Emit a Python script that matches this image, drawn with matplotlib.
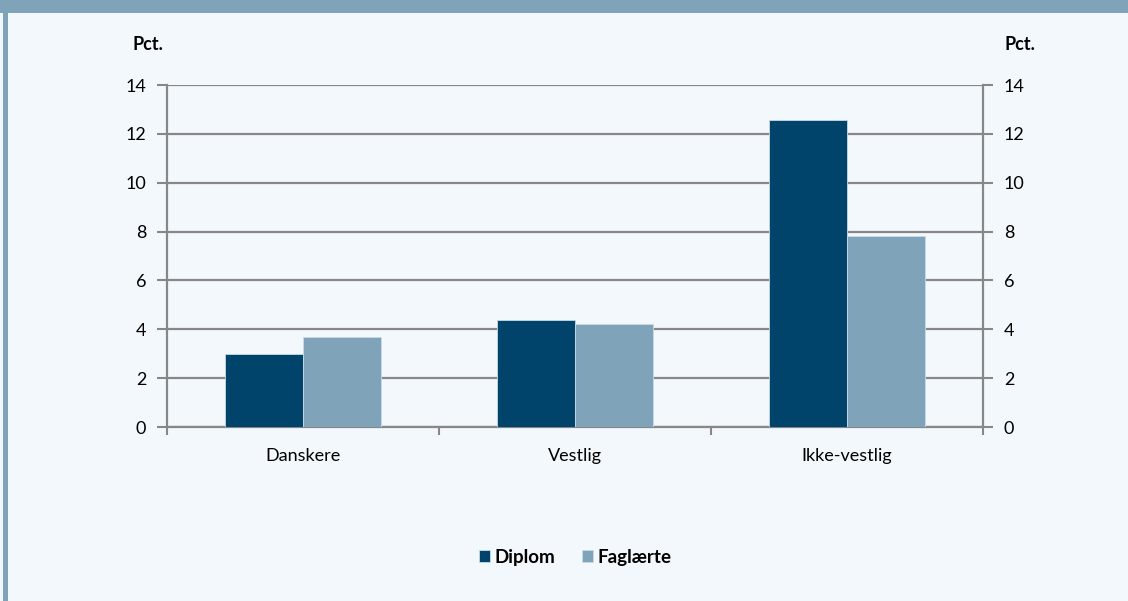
import matplotlib.pyplot as plt
import numpy as np
from matplotlib.patches import Rectangle

categories = ["Danskere", "Vestlig", "Ikke-vestlig"]
diplom = [3.0, 4.4, 12.55]
faglaerte = [3.7, 4.2, 7.8]
y_ticks = [0, 2, 4, 6, 8, 10, 12, 14]

DARK = "#00446b"
LIGHT = "#7fa3b8"
GRID = "#878787"
BG = "#f3f8fc"
BAND = "#7fa3b8"

plt.rcParams["font.family"] = ["Lato", "DejaVu Sans"]

fig = plt.figure(figsize=(11.28, 6.01), dpi=100)
fig.patch.set_facecolor(BG)

# frame: top band and left strip
fig.add_artist(Rectangle((0, 1 - 13 / 601), 1, 13 / 601, transform=fig.transFigure,
                         facecolor=BAND, edgecolor="none"))
fig.add_artist(Rectangle((3 / 1128, 0), 5 / 1128, 1, transform=fig.transFigure,
                         facecolor=BAND, edgecolor="none"))

left, right = 167 / 1128, 983 / 1128
bottom, top = 1 - 427 / 601, 1 - 85 / 601
ax = fig.add_axes([left, bottom, right - left, top - bottom])
ax.set_facecolor(BG)

x = np.arange(len(categories))
w = 0.285
ax.bar(x - w / 2, diplom, w, color=DARK, edgecolor="#c9dbe8", linewidth=0.6, label="Diplom", zorder=3)
ax.bar(x + w / 2, faglaerte, w, color=LIGHT, edgecolor="#c9dbe8", linewidth=0.6, label="Faglærte", zorder=3)

ax.set_xlim(-0.5, len(categories) - 0.5)
ax.set_ylim(0, 14)
ax.set_yticks(y_ticks)
ax.yaxis.grid(True, color=GRID, linewidth=1.6, zorder=1)
ax.set_axisbelow(True)

ax.set_xticks(np.arange(len(categories) + 1) - 0.5)
ax.set_xticklabels([])
ax.set_xticks(x, minor=True)
ax.set_xticklabels(categories, minor=True, fontsize=13)
ax.tick_params(axis="x", which="major", direction="out", length=6, width=1.5, color=GRID)
ax.tick_params(axis="x", which="minor", length=0, pad=15)
ax.tick_params(axis="y", direction="out", length=7, width=1.5, color=GRID, labelsize=13, pad=8,
               right=True, labelright=True)

ax.spines["top"].set_visible(False)
for side in ["left", "right", "bottom"]:
    ax.spines[side].set_color(GRID)
    ax.spines[side].set_linewidth(1.6)

fig.text(148 / 1128, 1 - 45 / 601, "Pct.", ha="center", va="center", fontsize=13, fontweight="bold")
fig.text(1020 / 1128, 1 - 45 / 601, "Pct.", ha="center", va="center", fontsize=13, fontweight="bold")

fig.legend(loc="center", bbox_to_anchor=(575 / 1128, 1 - 557 / 601), ncol=2, frameon=False,
           prop={"weight": "bold", "size": 13.5}, handlelength=0.6, handleheight=0.6,
           handletextpad=0.25, columnspacing=1.4)

fig.savefig("out.png", dpi=100, facecolor=fig.get_facecolor())
